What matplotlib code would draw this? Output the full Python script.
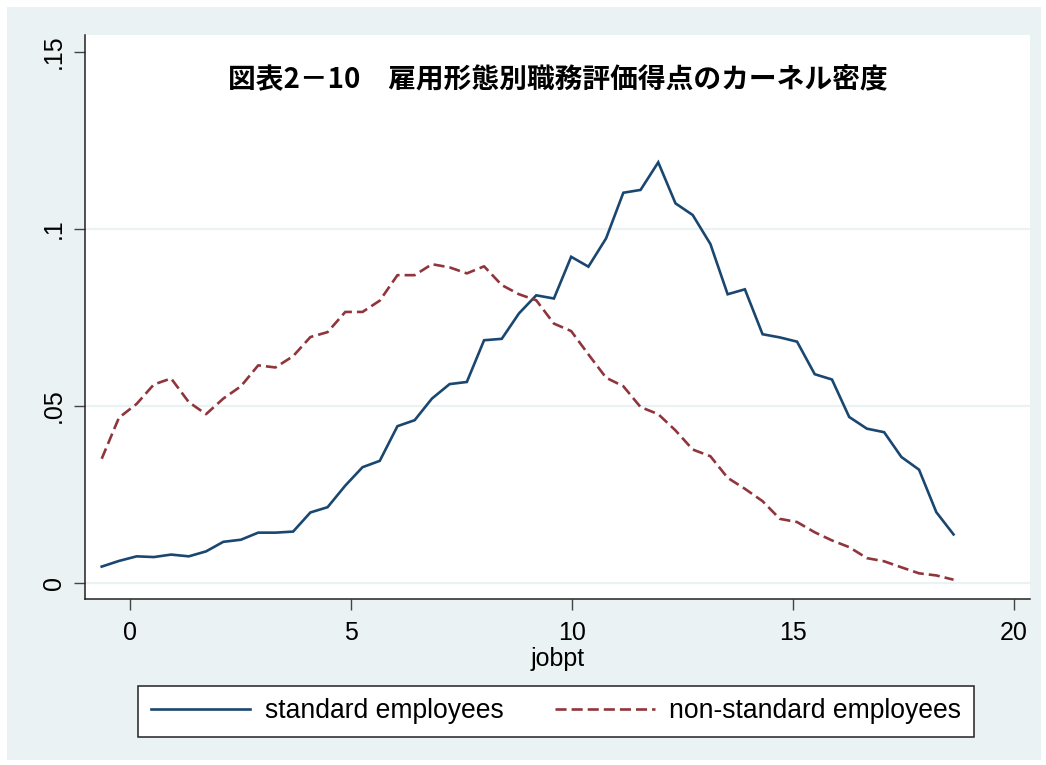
import matplotlib
matplotlib.use('Agg')
import matplotlib.pyplot as plt
from matplotlib.patches import Rectangle

# ---- data (kernel density evaluated on 50 points of jobpt) ----
jobpt = [-0.64, -0.25, 0.15, 0.54, 0.93, 1.33, 1.72, 2.11, 2.51, 2.90,
         3.29, 3.69, 4.08, 4.47, 4.87, 5.26, 5.65, 6.05, 6.44, 6.83,
         7.23, 7.62, 8.01, 8.41, 8.80, 9.19, 9.59, 9.98, 10.37, 10.77,
         11.16, 11.55, 11.95, 12.34, 12.73, 13.13, 13.52, 13.91, 14.31, 14.70,
         15.09, 15.49, 15.88, 16.27, 16.67, 17.06, 17.45, 17.85, 18.24, 18.63]

standard = [0.0045, 0.0061, 0.0074, 0.0072, 0.0079, 0.0074, 0.0088, 0.0115, 0.0121, 0.0141,
            0.0141, 0.0144, 0.0198, 0.0213, 0.0274, 0.0326, 0.0344, 0.0442, 0.0459, 0.0520,
            0.0561, 0.0567, 0.0685, 0.0689, 0.0761, 0.0812, 0.0803, 0.0921, 0.0893, 0.0973,
            0.1102, 0.1110, 0.1188, 0.1072, 0.1039, 0.0957, 0.0815, 0.0829, 0.0702, 0.0693,
            0.0681, 0.0589, 0.0574, 0.0468, 0.0435, 0.0425, 0.0355, 0.0319, 0.0199, 0.0136]

nonstandard = [0.0350, 0.0466, 0.0505, 0.0560, 0.0577, 0.0510, 0.0476, 0.0520, 0.0555, 0.0614,
               0.0608, 0.0640, 0.0694, 0.0708, 0.0765, 0.0765, 0.0797, 0.0869, 0.0869, 0.0900,
               0.0891, 0.0874, 0.0894, 0.0841, 0.0815, 0.0798, 0.0732, 0.0711, 0.0645, 0.0579,
               0.0555, 0.0496, 0.0476, 0.0430, 0.0376, 0.0357, 0.0296, 0.0265, 0.0230, 0.0180,
               0.0171, 0.0142, 0.0119, 0.0100, 0.0069, 0.0060, 0.0043, 0.0026, 0.0020, 0.0008]

x_ticks = [0, 5, 10, 15, 20]
x_ticklabels = ['0', '5', '10', '15', '20']
y_ticks = [0, 0.05, 0.10, 0.15]
y_ticklabels = ['0', '.05', '.1', '.15']
title = '図表2－10\u3000雇用形態別職務評価得点のカーネル密度'
x_label = 'jobpt'
series_labels = ['standard employees', 'non-standard employees']

# ---- style ----
BG = '#EAF2F3'
BLUE = '#1A476F'
RED = '#90353B'
plt.rcParams['font.family'] = ['Liberation Sans', 'DejaVu Sans']

W, H = 1046, 765
fig = plt.figure(figsize=(W / 100, H / 100), dpi=100, facecolor='white')
fig.patches.append(Rectangle((7 / W, 5 / H), (W - 12) / W, (H - 12) / H,
                             transform=fig.transFigure, facecolor=BG,
                             edgecolor='none', zorder=-10))

left, right, top, bottom = 85, 1030, 35, 599
ax = fig.add_axes([left / W, 1 - bottom / H, (right - left) / W, (bottom - top) / H])
ax.set_facecolor('white')

ax.plot(jobpt, standard, color=BLUE, lw=1.9, solid_joinstyle='miter',
        label=series_labels[0], zorder=3)
ax.plot(jobpt, nonstandard, color=RED, lw=1.9, dashes=(4.2, 1.9),
        label=series_labels[1], zorder=3)

ax.set_xlim(-1.018, 20.36)
ax.set_ylim(-0.00466, 0.1548)

ax.set_xticks(x_ticks)
ax.set_xticklabels(x_ticklabels)
ax.set_yticks(y_ticks)
ax.set_yticklabels(y_ticklabels, rotation=90, va='center')

for s in ['top', 'right']:
    ax.spines[s].set_visible(False)
for s in ['left', 'bottom']:
    ax.spines[s].set_linewidth(1.1)
    ax.spines[s].set_color('#222222')

ax.tick_params(axis='both', length=8, width=1.0, color='#444444',
               labelsize=18, pad=6)
ax.tick_params(axis='x', pad=8)

for yv in [0, 0.05, 0.10]:
    ax.axhline(yv, color=BG, lw=1.6, zorder=1)

ax.set_xlabel(x_label, fontsize=18, labelpad=1)

ax.text(0.5, 0.921, title, transform=ax.transAxes, ha='center', va='center',
        fontsize=20, fontweight='bold',
        family=['Noto Sans CJK JP', 'DejaVu Sans'])

leg = fig.legend(loc='center', bbox_to_anchor=(556 / W, 1 - 711.5 / H),
                 ncol=2, fontsize=19.1, frameon=True, fancybox=False,
                 handlelength=3.75, handletextpad=0.55, columnspacing=1.95,
                 borderpad=0.46)
leg.get_frame().set_edgecolor('#222222')
leg.get_frame().set_linewidth(1.1)
leg.get_frame().set_facecolor('white')
leg.get_frame().set_alpha(1)

fig.savefig('out.png', dpi=100, facecolor=fig.get_facecolor())
